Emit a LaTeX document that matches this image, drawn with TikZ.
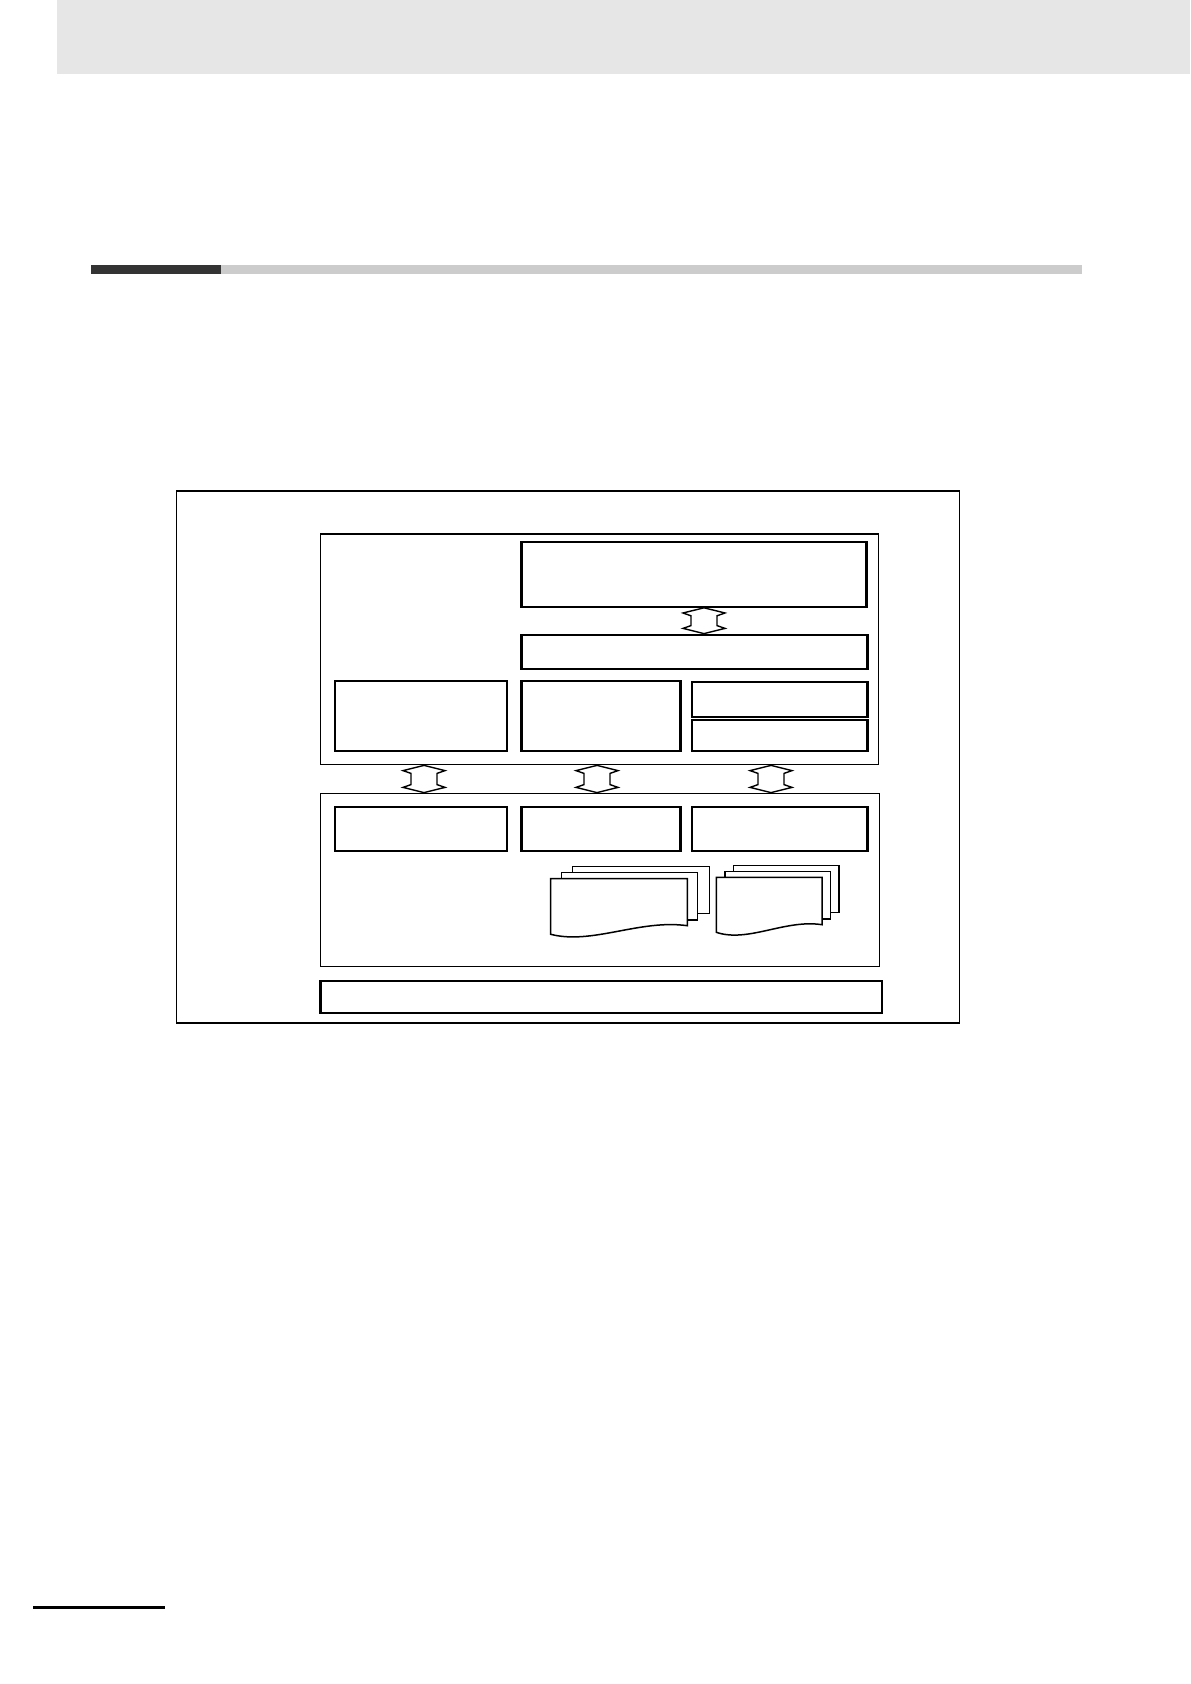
\documentclass[tikz,border=0pt]{standalone}
\usetikzlibrary{calc,fit}
\definecolor{bandgray}{HTML}{E6E6E6}
\definecolor{darkbar}{HTML}{333333}
\definecolor{lightbar}{HTML}{CCCCCC}
\tikzset{
  frame/.style={draw=black, line width=0.8pt, inner sep=0pt, fill=none},
  container/.style={draw=black, line width=0.7pt, inner sep=0pt},
  unitbox/.style={draw=black, line width=1.1pt, inner sep=0pt},
  blockarrow/.style={draw=black, fill=white, line width=0.7pt, line join=miter},
  sheet/.style={draw=black, fill=white, line width=0.75pt}
}
\newcommand\dbarrow[2]{%
  \draw[blockarrow] let \p1=(#1), \p2=(#2) in
    (\x1,\y1) -- (\x1-10.5pt,\y1-2.6pt) -- (\x1-6.5pt,\y1-4pt) -- (\x1-6.5pt,\y2+4pt)
    -- (\x1-10.5pt,\y2+2.6pt) -- (\x1,\y2) -- (\x1+10.5pt,\y2+2.6pt) -- (\x1+6.5pt,\y2+4pt)
    -- (\x1+6.5pt,\y1-4pt) -- (\x1+10.5pt,\y1-2.6pt) -- cycle;}
\begin{document}
\begin{tikzpicture}[x=0.5pt,y=-0.5pt]
\useasboundingbox (0,0) rectangle (1190,1684);
% page decorations
\fill[bandgray] (57,0) rectangle (1190,73.7);
\fill[darkbar] (91,265) rectangle (221,274);
\fill[lightbar] (221,265) rectangle (1082,274);
\fill[black] (33,1606) rectangle (165,1608.5);
% outer frame
\node[frame, fit={(176.5,491) (959.5,1023)}] (frame) {};
% upper container
\node[container, fit={(320.4,534) (878.7,764.7)}] (contA) {};
\node[unitbox, fit={(521.5,542.3) (866.5,606.7)}] (topbox) {};
\node[unitbox, fit={(521.5,634.7) (867.4,669.3)}] (secbox) {};
\node[unitbox, fit={(334.6,681.3) (507.3,750.7)}] (ra) {};
\node[unitbox, fit={(521.5,681.3) (680.5,750.7)}] (rb) {};
\node[unitbox, fit={(691.9,682.3) (867.4,717)}] (rc) {};
\node[unitbox, fit={(691.9,720.3) (867.4,750.7)}] (rd) {};
% lower container
\node[container, fit={(320.4,793.3) (879.7,966.3)}] (contB) {};
\node[unitbox, fit={(334.6,806.7) (507.3,851)}] (ba) {};
\node[unitbox, fit={(521.5,806.7) (680.5,851)}] (bb) {};
\node[unitbox, fit={(691.9,806.7) (867.4,851)}] (bc) {};
% base bar
\node[unitbox, fit={(320.4,980.7) (882,1012.7)}] (base) {};
% arrows
\coordinate (xa) at (704,0);
\coordinate (x1) at (424,0);
\coordinate (x2) at (597,0);
\coordinate (x3) at (771,0);
\dbarrow{topbox.south -| xa}{secbox.north -| xa}
\dbarrow{contA.south -| x1}{contB.north -| x1}
\dbarrow{contA.south -| x2}{contB.north -| x2}
\dbarrow{contA.south -| x3}{contB.north -| x3}
% document stack 1
\draw[sheet] (572.3,866.3) rectangle (709.3,913.7);
\draw[sheet] (561.7,872.3) rectangle (697.7,920);
\draw[sheet] (550.7,878.7) -- (687.3,878.7) -- (687.3,925.7)
  .. controls (640,919) and (592,945) .. (550.7,934.3) -- cycle;
% document stack 2
\draw[sheet] (733.3,865.3) rectangle (839,912.7);
\draw[sheet] (725,871.7) rectangle (830.7,919);
\draw[sheet] (716.3,877.3) -- (822,877.3) -- (822,924.7)
  .. controls (785,919) and (748,943) .. (716.3,932.3) -- cycle;
\end{tikzpicture}
\end{document}
